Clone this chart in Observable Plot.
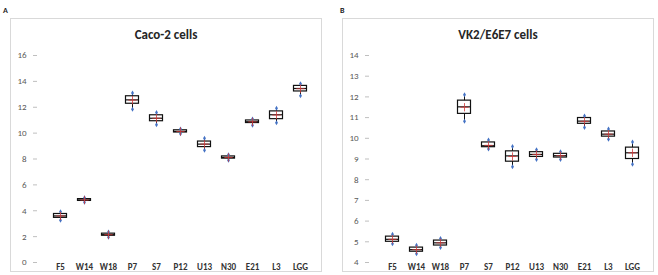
<!DOCTYPE html>
<html>
<head>
<meta charset="utf-8">
<script src="https://cdn.jsdelivr.net/npm/d3@7"></script>
<script src="https://cdn.jsdelivr.net/npm/@observablehq/plot@0.6"></script>
<style>
  body { margin: 0; background: #fff; }
  #root { position: relative; width: 658px; height: 275px; font-family: Carlito, Lato, "Open Sans", sans-serif; }
  .lbl { position: absolute; font-weight: bold; font-size: 8px; color: #222; }
  .frame { position: absolute; top: 18px; width: 310px; height: 252px; border: 1px solid #d9d9d9; background: #fff; }
  .title { position: absolute; left: 0; right: 0; top: 9px; line-height: 14px; text-align: center; font-weight: bold; font-size: 13px; color: #262626; }
  .plot { position: absolute; left: 0; top: 0; }
</style>
</head>
<body>
<div id="root">
  <div class="lbl" style="left:3px;top:5px">A</div>
  <div class="frame" style="left:10px"><div class="plot" id="plotA"></div><div class="title">Caco-2 cells</div></div>
  <div class="lbl" style="left:340px;top:5px">B</div>
  <div class="frame" style="left:342px"><div class="plot" id="plotB"></div><div class="title">VK2/E6E7 cells</div></div>
</div>
<script>
const categories = ["F5", "W14", "W18", "P7", "S7", "P12", "U13", "N30", "E21", "L3", "LGG"];

// Panel A: Caco-2 cells
const cacoMin  = [3.27, 4.65, 1.95, 11.85, 10.65, 9.95, 8.68, 7.90, 10.60, 10.80, 12.88];
const cacoQ1   = [3.45, 4.76, 2.07, 12.27, 10.92, 10.05, 8.92, 8.03, 10.78, 11.08, 13.22];
const cacoMed  = [3.60, 4.83, 2.15, 12.57, 11.15, 10.13, 9.15, 8.12, 10.88, 11.42, 13.45];
const cacoQ3   = [3.75, 4.90, 2.23, 12.85, 11.38, 10.22, 9.35, 8.20, 10.98, 11.68, 13.65];
const cacoMax  = [3.93, 5.00, 2.35, 13.10, 11.60, 10.32, 9.60, 8.33, 11.10, 11.92, 13.82];
const cacoMean = [3.60, 4.83, 2.15, 12.55, 11.15, 10.13, 9.15, 8.12, 10.87, 11.40, 13.43];
const cacoTicks = [0, 2, 4, 6, 8, 10, 12, 14, 16];

// Panel B: VK2/E6E7 cells
const vkMin  = [4.90, 4.42, 4.72, 10.82, 9.48, 8.63, 8.98, 8.98, 10.52, 9.95, 8.75];
const vkQ1   = [5.00, 4.52, 4.82, 11.18, 9.57, 8.87, 9.10, 9.07, 10.70, 10.08, 9.00];
const vkMed  = [5.12, 4.62, 4.95, 11.52, 9.64, 9.15, 9.22, 9.16, 10.83, 10.20, 9.30];
const vkQ3   = [5.25, 4.72, 5.06, 11.82, 9.80, 9.37, 9.33, 9.25, 10.98, 10.33, 9.55];
const vkMax  = [5.36, 4.83, 5.16, 12.10, 9.92, 9.60, 9.45, 9.35, 11.08, 10.45, 9.82];
const vkMean = [5.12, 4.62, 4.95, 11.50, 9.66, 9.12, 9.22, 9.16, 10.82, 10.20, 9.30];
const vkTicks = [4, 5, 6, 7, 8, 9, 10, 11, 12, 13, 14];

function rows(mn, q1, md, q3, mx, mean) {
  return categories.map((c, i) => ({cat: c, min: mn[i], q1: q1[i], med: md[i], q3: q3[i], max: mx[i], mean: mean[i]}));
}

function boxPlot(data, domain, ticks) {
  const ends = data.flatMap(d => [{cat: d.cat, v: d.min}, {cat: d.cat, v: d.max}]);
  return Plot.plot({
    width: 310,
    height: 252,
    marginTop: 36,
    marginBottom: 9,
    marginLeft: 26,
    marginRight: 9,
    style: {fontFamily: "Carlito, Lato, 'Open Sans', sans-serif", fontSize: "9px", background: "transparent", color: "#595959"},
    x: {type: "band", domain: categories, padding: 0, insetLeft: 10},
    y: {domain: domain},
    marks: [
      Plot.axisY({ticks: ticks, tickSize: 4, tickPadding: 7, stroke: "#bfbfbf", fill: "#595959", label: null}),
      Plot.axisX({tickSize: 0, tickPadding: 1, fill: "#333", fontWeight: "bold", label: null}),
      Plot.ruleX(data, {x: "cat", y1: "min", y2: "max", stroke: "#111", strokeWidth: 1}),
      Plot.barY(data, {x: "cat", y1: "q1", y2: "q3", fill: "white", stroke: "#111", strokeWidth: 1.2, insetLeft: 5.5, insetRight: 5.5}),
      Plot.tickY(data, {x: "cat", y: "med", stroke: "#111", strokeWidth: 1.2, insetLeft: 5.5, insetRight: 5.5}),
      Plot.dot(ends, {x: "cat", y: "v", symbol: "diamond", fill: "#4472c4", r: 1.5}),
      Plot.dot(data, {x: "cat", y: "mean", symbol: "plus", stroke: "#d03a3a", strokeWidth: 0.8, r: 2.8})
    ]
  });
}

document.getElementById("plotA").appendChild(
  boxPlot(rows(cacoMin, cacoQ1, cacoMed, cacoQ3, cacoMax, cacoMean), [0, 16], cacoTicks));
document.getElementById("plotB").appendChild(
  boxPlot(rows(vkMin, vkQ1, vkMed, vkQ3, vkMax, vkMean), [4, 14], vkTicks));
</script>
</body>
</html>
